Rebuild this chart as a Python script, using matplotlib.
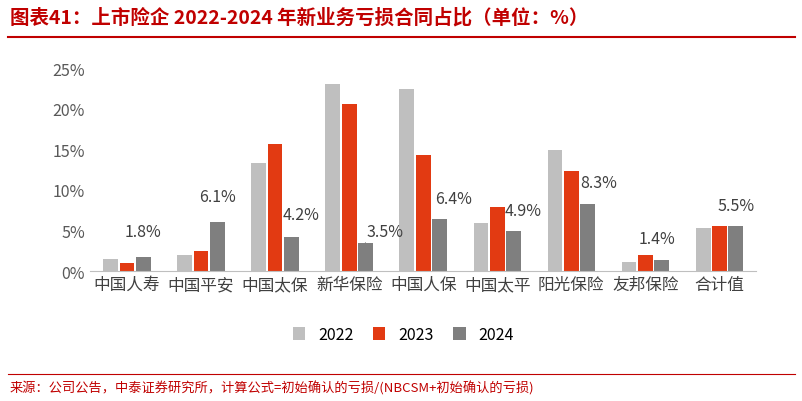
import numpy as np
import matplotlib.pyplot as plt
from matplotlib.lines import Line2D

plt.rcParams['font.family'] = ['Noto Sans CJK SC', 'DejaVu Sans']

categories = ["中国人寿", "中国平安", "中国太保", "新华保险", "中国人保", "中国太平", "阳光保险", "友邦保险", "合计值"]
v2022 = [1.5, 2.0, 13.3, 23.1, 22.4, 5.9, 14.9, 1.1, 5.3]
v2023 = [1.0, 2.5, 15.6, 20.6, 14.3, 7.9, 12.3, 2.0, 5.5]
v2024 = [1.8, 6.1, 4.2, 3.5, 6.4, 4.9, 8.3, 1.4, 5.5]
# label offsets in points (dx, dy) for 2024 labels
offsets = [(0, 12), (0, 12), (7, 10), (14, 2), (10, 9), (7, 9), (8, 9), (-3, 9), (0, 9)]

fig = plt.figure(figsize=(8.03, 4.02), dpi=100)
ax = fig.add_axes([0.112, 0.323, 0.83, 0.505])

x = np.arange(len(categories))
w = 0.2
ax.bar(x - 0.22, v2022, w, color="#BFBFBF", label="2022")
ax.bar(x, v2023, w, color="#E23A12", label="2023")
ax.bar(x + 0.22, v2024, w, color="#7F7F7F", label="2024")

for i, v in enumerate(v2024):
    dx, dy = offsets[i]
    if i == 3:
        ax.annotate(f"{v}%", xy=(x[i] + 0.22, v), xytext=(dx, dy), textcoords="offset points",
                    ha="center", va="bottom", fontsize=11.5, color="#404040",
                    arrowprops=dict(arrowstyle="-", color="#808080", lw=0.8, shrinkA=0, shrinkB=0))
    else:
        ax.annotate(f"{v}%", xy=(x[i] + 0.22, v), xytext=(dx, dy), textcoords="offset points",
                    ha="center", va="bottom", fontsize=11.5, color="#404040")

ax.set_xlim(-0.5, len(categories) - 0.5)
ax.set_ylim(0, 25)
ax.set_yticks(range(0, 26, 5))
ax.set_yticklabels([f"{t}%" for t in range(0, 26, 5)], fontsize=11.5, color="#595959")
ax.set_xticks(x)
ax.set_xticklabels(categories, fontsize=12, color="#404040")
ax.tick_params(length=0)
for s in ["top", "right", "left"]:
    ax.spines[s].set_visible(False)
ax.spines["bottom"].set_color("#BFBFBF")

ax.legend(loc="upper center", bbox_to_anchor=(0.47, -0.2), ncol=3, frameon=False,
          fontsize=11.5, handlelength=0.8, handleheight=0.8, columnspacing=1.2)

fig.text(0.012, 0.955, "图表41：上市险企 2022-2024 年新业务亏损合同占比（单位：%）",
         fontsize=14, fontweight="bold", style="italic", color="#C00000", va="center")
fig.add_artist(Line2D([0.01, 0.99], [0.905, 0.905], color="#C00000", lw=1.5))
fig.add_artist(Line2D([0.01, 0.99], [0.068, 0.068], color="#C00000", lw=0.8))
fig.text(0.012, 0.035, "来源：公司公告，中泰证券研究所，计算公式=初始确认的亏损/(NBCSM+初始确认的亏损)",
         fontsize=9.5, color="#C00000", va="center")

fig.savefig("out.png", dpi=100)
